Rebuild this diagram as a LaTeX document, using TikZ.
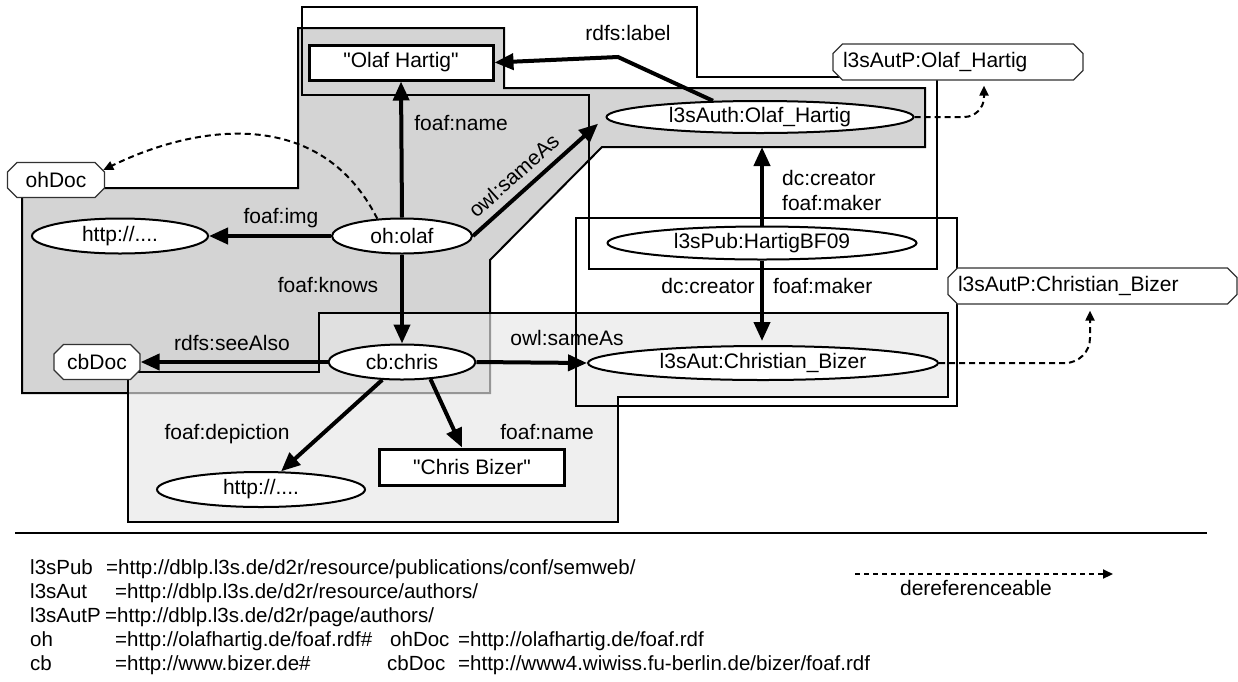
\documentclass[tikz,border=0pt]{standalone}
\usepackage{fontspec}
\setmainfont{Liberation Sans}
\usetikzlibrary{shapes.geometric,shapes.misc,arrows.meta,calc}
\definecolor{darkreg}{RGB}{212,212,212}
\definecolor{lightreg}{RGB}{231,231,231}
\definecolor{octline}{RGB}{50,50,50}
\begin{document}
\begin{tikzpicture}[x=1pt,y=-1pt,
  every node/.style={font=\fontsize{21}{25}\selectfont},
  res/.style={ellipse, draw, line width=2pt, fill=white, inner sep=0pt},
  lit/.style={rectangle, draw, line width=3pt, fill=white, inner sep=0pt},
  docnode/.style={chamfered rectangle, chamfered rectangle xsep=6pt, draw=octline, line width=1.2pt, fill=white, inner sep=0pt},
  edge/.style={line width=4pt, -{Triangle[length=19pt,width=16pt]}},
  deref/.style={line width=2pt, dash pattern=on 6pt off 4pt, -{Triangle[length=10pt,width=9pt]}},
  lbl/.style={inner sep=0pt, text height=15pt, text depth=4pt},
  leg/.style={anchor=base west, inner sep=0pt, font=\fontsize{20.5}{24}\selectfont},
  region/.style={line width=2pt}]
\useasboundingbox (0,0) rectangle (1238,681);

% ohDoc region (dark)
\draw[region, fill=darkreg] (104,188) -- (298,188) -- (298,28) -- (504,28) -- (504,88) -- (925,88) -- (925,147) -- (602,147) -- (490,260) -- (490,393) -- (22,393) -- (22,188) -- cycle;
% cbDoc region (light, translucent)
\draw[region, fill=lightreg, fill opacity=0.65] (140,372) -- (319,372) -- (319,313) -- (948,313) -- (948,397) -- (618,397) -- (618,522) -- (128,522) -- (128,372) -- cycle;
% l3sAutP:Olaf_Hartig region
\draw[region] (302,95) -- (302,7) -- (697,7) -- (697,77) -- (937,77) -- (937,269) -- (589,269) -- (589,95) -- cycle;
% l3sAutP:Christian_Bizer region
\draw[region] (576,218) rectangle (957,406);

% nodes
\node[docnode, minimum width=97pt, minimum height=35pt] (ohDoc) at (56,180) {ohDoc};
\node[lit, minimum width=184pt, minimum height=35pt] (olafname) at (401,62.5) {\textquotedbl Olaf Hartig\textquotedbl};
\node[res, minimum width=307pt, minimum height=32pt] (l3sAuth) at (760,117) {l3sAuth:Olaf\_Hartig};
\node[docnode, minimum height=36pt, text width=230pt, align=left, inner xsep=4pt] (autpO) at (958,62) {l3sAutP:Olaf\_Hartig};
\node[res, minimum width=140pt, minimum height=35pt] (olaf) at (402,236) {oh:olaf};
\node[res, minimum width=176pt, minimum height=35pt] (http1) at (120,236) {http://....};
\node[docnode, minimum width=86pt, minimum height=35pt] (cbDoc) at (97,362) {cbDoc};
\node[res, minimum width=147pt, minimum height=35pt] (chris) at (402,362) {cb:chris};
\node[res, minimum width=309pt, minimum height=33pt] (l3sPub) at (762,243) {l3sPub:HartigBF09};
\node[res, minimum width=350pt, minimum height=34pt] (l3sAut) at (763,363) {l3sAut:Christian\_Bizer};
\node[docnode, minimum height=36pt, text width=269pt, align=left, inner xsep=4pt] (autpC) at (1092.5,286) {l3sAutP:Christian\_Bizer};
\node[lit, minimum width=185pt, minimum height=36pt] (chrisname) at (472,467) {\textquotedbl Chris Bizer\textquotedbl};
\node[res, minimum width=208pt, minimum height=35pt] (http2) at (261,489.5) {http://....};

\coordinate (lblbend) at (618,57);

% edges
\draw[edge] (olaf.north) -- (olafname.south);
\draw[edge] (olaf.west) -- (http1.east);
\draw[edge, shorten >=10pt] (olaf.east) -- (l3sAuth.west);
\draw[edge] (olaf.south) -- (chris.north);
\draw[edge] (chris.west) -- (cbDoc.east);
\draw[edge] (chris.east) -- (l3sAut.west);
\draw[edge] (chris) -- (http2);
\draw[edge] (chris.-31) -- ([xshift=-10pt]chrisname.north);
\draw[edge] (l3sAuth.161) -- (lblbend) -- (olafname.east);
\draw[edge, shorten >=13pt] (l3sPub.north) -- (l3sPub.north |- l3sAuth.south);
\draw[edge, shorten >=4pt] (l3sPub.south) -- (l3sPub.south |- l3sAut.north);

% dereferenceable links
\draw[deref] (olaf.145) .. controls (320,105) and (195,125) .. (ohDoc.12);
\draw[deref, rounded corners=20pt] (l3sAuth.east) -- (984,117) -- ([xshift=26pt,yshift=-5pt]autpO.south);
\draw[deref, rounded corners=25pt] (l3sAut.east) -- (1090,363) -- ([xshift=-2.5pt,yshift=-6pt]autpC.south);

% labels
\node[lbl] (lname1) at (461,125) {foaf:name};
\node[lbl] (limg) at (281,218) {foaf:img};
\node[lbl, rotate=42] (lsame1) at (515,177) {owl:sameAs};
\node[lbl] (lknows) at (328,287) {foaf:knows};
\node[lbl] (lsee) at (232,345) {rdfs:seeAlso};
\node[lbl] (lsame2) at (567,340) {owl:sameAs};
\node[lbl] (ldep) at (227,434) {foaf:depiction};
\node[lbl] (lname2) at (547,434) {foaf:name};
\node[lbl] (llabel) at (628,35) {rdfs:label};
\node[lbl, anchor=west] (lcr1) at (782,180) {dc:creator};
\node[lbl, anchor=west] (lmk1) at (782,205) {foaf:maker};
\node[lbl] (lcr2) at (708,288) {dc:creator};
\node[lbl, anchor=west] (lmk2) at (773,288) {foaf:maker};

% legend
\coordinate (sepL) at (15,533);
\coordinate (sepR) at (1207,533);
\draw[line width=2.5pt] (sepL) -- (sepR);
\coordinate (legA) at (855,574);
\coordinate (legB) at (1113,574);
\draw[deref, dash pattern=on 5pt off 4pt] (legA) -- (legB);
\node[anchor=base, inner sep=0pt] (legtxt) at (976,595) {dereferenceable};

\node[leg] (k1) at (30,574.5) {l3sPub};
\node[leg] (v1) at (106,574.5) {=http://dblp.l3s.de/d2r/resource/publications/conf/semweb/};
\node[leg] (k2) at (30,598.5) {l3sAut};
\node[leg] (v2) at (115,598.5) {=http://dblp.l3s.de/d2r/resource/authors/};
\node[leg] (k3) at (30,622.5) {l3sAutP};
\node[leg] (v3) at (105,622.5) {=http://dblp.l3s.de/d2r/page/authors/};
\node[leg] (k4) at (30,646.5) {oh};
\node[leg] (v4) at (115,646.5) {=http://olafhartig.de/foaf.rdf\#};
\node[leg] (k4b) at (390,646.5) {ohDoc};
\node[leg] (v4b) at (458,646.5) {=http://olafhartig.de/foaf.rdf};
\node[leg] (k5) at (30,670.5) {cb};
\node[leg] (v5) at (115,670.5) {=http://www.bizer.de\#};
\node[leg] (k5b) at (387,670.5) {cbDoc};
\node[leg] (v5b) at (458,670.5) {=http://www4.wiwiss.fu-berlin.de/bizer/foaf.rdf};
\end{tikzpicture}
\end{document}
